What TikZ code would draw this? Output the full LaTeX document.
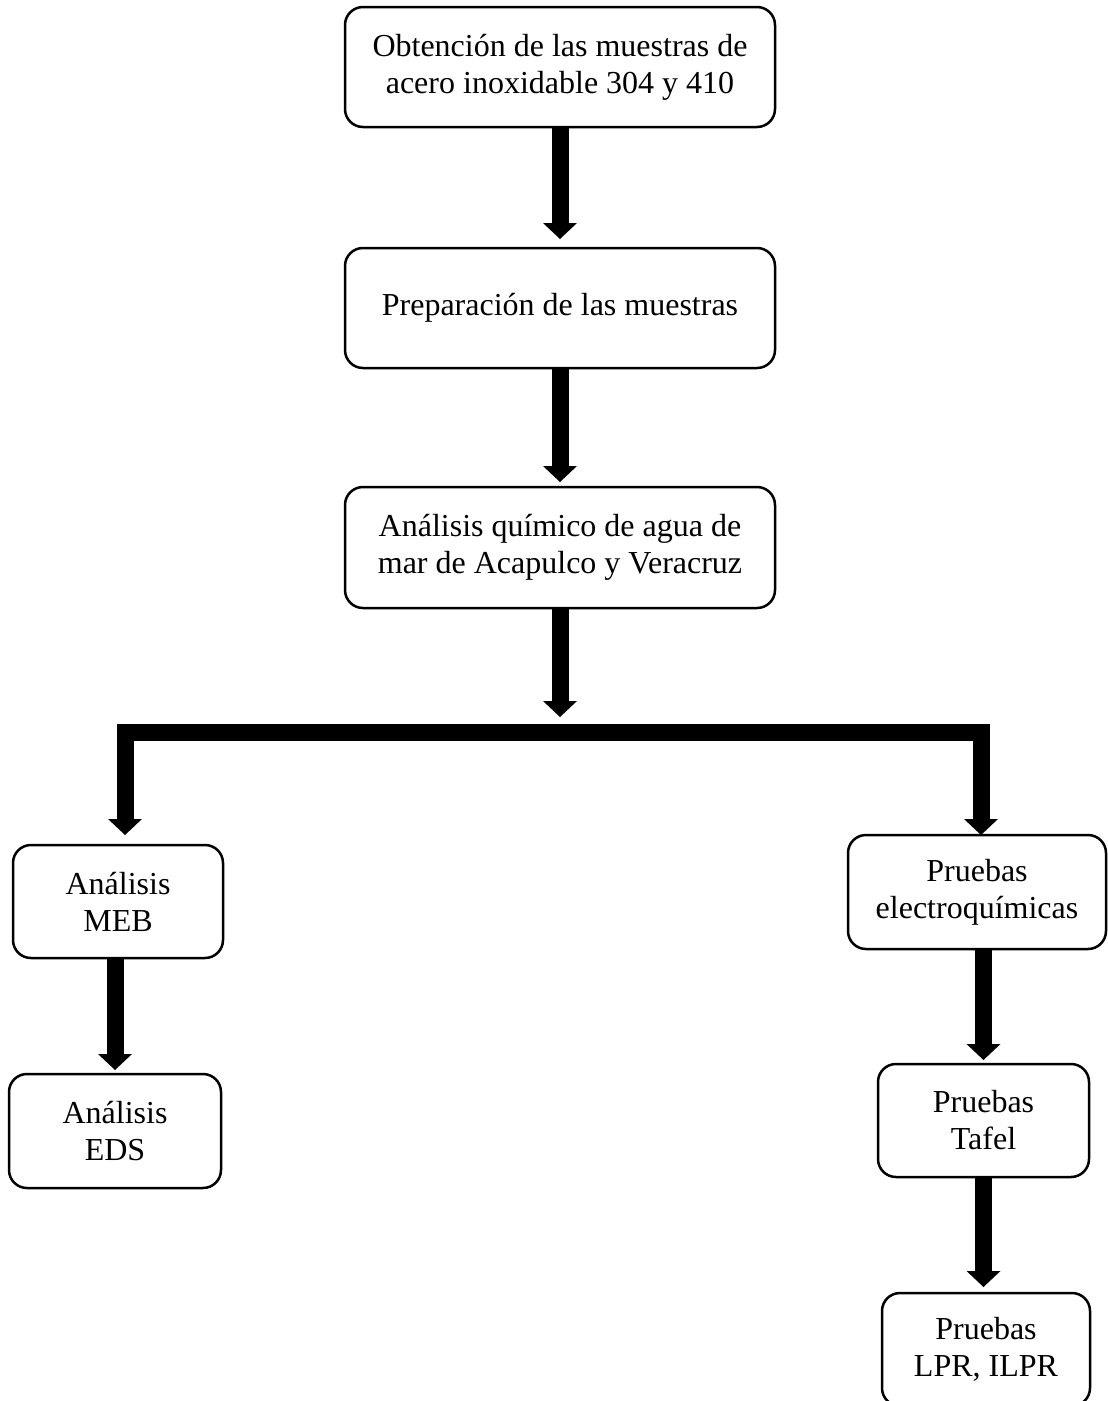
\documentclass[tikz,border=0pt]{standalone}
\usepackage{fontspec}
\setmainfont{Liberation Serif}
\usetikzlibrary{arrows.meta,calc}
\tikzset{
  box/.style={draw, line width=2.5pt, rounded corners=18pt, align=center,
    inner sep=0pt, outer sep=0pt, font=\fontsize{32}{37}\selectfont},
  bigarrow/.style={line width=17pt, line join=miter,
    -{Triangle[length=16pt,width=34pt,line width=0pt]}},
}
\begin{document}
\begin{tikzpicture}[x=1pt,y=1pt]
\useasboundingbox (0,0) rectangle (1108,-1401);
\fill[white] (0,0) rectangle (1108,-1401);

\node[box, minimum width=430pt, minimum height=120pt] (b1) at (560,-67)
  {Obtención de las muestras de\\acero inoxidable 304 y 410};
\node[box, minimum width=430pt, minimum height=120pt] (b2) at (560,-308)
  {Preparación de las muestras};
\node[box, minimum width=430pt, minimum height=121pt] (b3) at (560,-547.5)
  {Análisis químico de agua de\\mar de Acapulco y Veracruz};
\node[box, minimum width=210pt, minimum height=113pt] (meb) at (118,-901.5)
  {Análisis\\MEB};
\node[box, minimum width=212pt, minimum height=114pt] (eds) at (115,-1131)
  {Análisis\\EDS};
\node[box, minimum width=258pt, minimum height=114pt] (elec) at (977,-892)
  {Pruebas\\electroquímicas};
\node[box, minimum width=211pt, minimum height=113pt] (tafel) at (983.5,-1120.5)
  {Pruebas\\Tafel};
\node[box, minimum width=208pt, minimum height=113pt] (lpr) at (986,-1349.5)
  {Pruebas\\LPR, ILPR};

\coordinate (jM) at (560,-732.5);
\coordinate (mL) at (125,-845);
\coordinate (rT) at (981,-835);

\draw[bigarrow, shorten >=9pt] (b1.south) -- (b2.north);
\draw[bigarrow, shorten >=5pt] (b2.south) -- (b3.north);
\draw[bigarrow, shorten >=15.5pt] (b3.south) -- (jM);
\draw[bigarrow, shorten >=10pt] (jM) -| (mL);
\draw[bigarrow] (jM) -| (rT);
\draw[bigarrow, shorten >=4pt] (eds.north |- meb.south) -- (eds.north);
\draw[bigarrow, shorten >=4pt] (tafel.north |- elec.south) -- (tafel.north);
\draw[bigarrow, shorten >=6pt] (tafel.south) -- (tafel.south |- lpr.north);
\end{tikzpicture}
\end{document}
